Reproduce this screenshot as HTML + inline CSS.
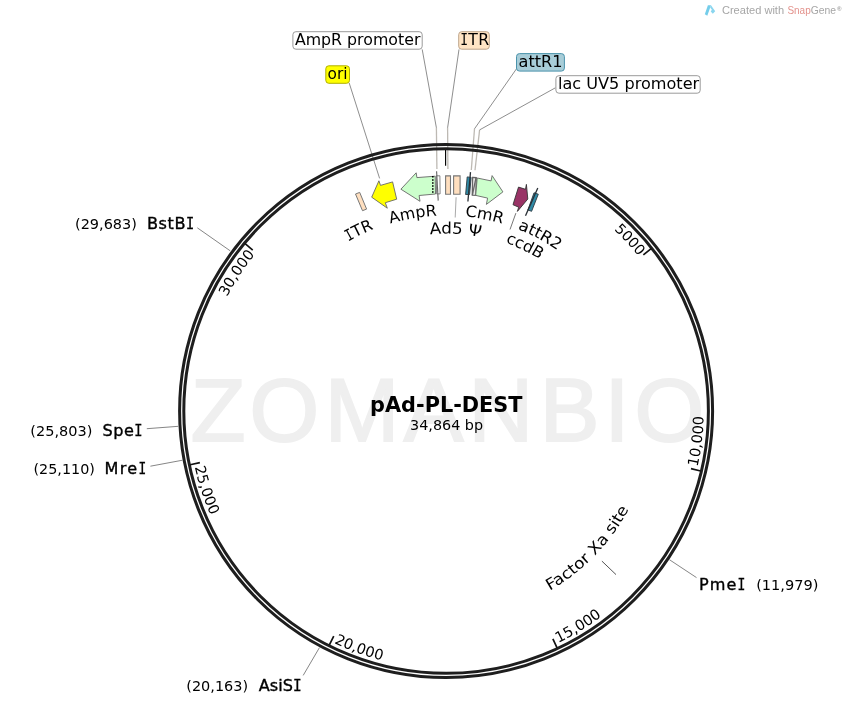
<!DOCTYPE html>
<html lang="en"><head><meta charset="utf-8"><title>pAd-PL-DEST</title>
<style>html,body{margin:0;padding:0;background:#fff;}body{width:849px;height:709px;overflow:hidden;}svg{display:block;will-change:transform;}text{font-family:"DejaVu Sans", "Liberation Sans", sans-serif;fill:#000;}</style></head><body>
<svg width="849" height="709" viewBox="0 0 849 709">
<rect width="849" height="709" fill="#fff"/>
<text x="190.7 249.4 324.8 403.7 468.6 539.8 604.5 634.6" y="440.7" font-size="89.5" stroke="#efefef" stroke-width="2" stroke-linejoin="miter" style="fill:#efefef;font-family:'Liberation Sans',sans-serif">ZOMANBIO</text>
<polyline points="436.4,127.8 436.9,168.9" fill="none" stroke="#bdb9b3" stroke-width="1.30"/>
<polyline points="447.6,127.8 447.9,168.9" fill="none" stroke="#bdb9b3" stroke-width="1.30"/>
<polyline points="474.5,128.8 471.3,170.0" fill="none" stroke="#bdb9b3" stroke-width="1.30"/>
<polyline points="479.6,129.9 475.0,170.2" fill="none" stroke="#bdb9b3" stroke-width="1.30"/>
<polyline points="422.2,49.4 436.4,127.8" fill="none" stroke="#7a7a7a" stroke-width="0.85"/>
<polyline points="459.0,49.4 447.6,127.8" fill="none" stroke="#7a7a7a" stroke-width="0.85"/>
<polyline points="517.2,67.8 474.5,128.8" fill="none" stroke="#7a7a7a" stroke-width="0.85"/>
<polyline points="555.4,87.8 479.6,129.9" fill="none" stroke="#7a7a7a" stroke-width="0.85"/>
<polyline points="349.2,83.0 379.6,178.4" fill="none" stroke="#7a7a7a" stroke-width="0.85"/>
<circle cx="446.1" cy="411.0" r="266.5" fill="none" stroke="#1e1e1e" stroke-width="3.0"/>
<circle cx="446.1" cy="411.0" r="262.3" fill="none" stroke="#1e1e1e" stroke-width="3.0"/>
<line x1="651.12" y1="248.67" x2="643.36" y2="254.82" stroke="#111" stroke-width="1.7"/>
<path id="tp5000" d="M613.88 229.73 A247.00 247.00 0 0 1 638.50 256.11" fill="none"/>
<text font-size="14.2"><textPath href="#tp5000" startOffset="0">5000</textPath></text>
<line x1="700.63" y1="470.97" x2="690.99" y2="468.70" stroke="#111" stroke-width="1.7"/>
<path id="tp10000" d="M697.55 466.96 A257.60 257.60 0 0 0 703.70 410.34" fill="none"/>
<text font-size="14.6"><textPath href="#tp10000" startOffset="0">10,000</textPath></text>
<line x1="557.08" y1="647.78" x2="552.88" y2="638.82" stroke="#111" stroke-width="1.7"/>
<path id="tp15000" d="M558.31 642.87 A257.60 257.60 0 0 0 606.52 612.55" fill="none"/>
<text font-size="14.6"><textPath href="#tp15000" startOffset="0">15,000</textPath></text>
<line x1="329.35" y1="644.99" x2="333.77" y2="636.13" stroke="#111" stroke-width="1.7"/>
<path id="tp20000" d="M333.96 642.91 A257.60 257.60 0 0 0 387.67 661.88" fill="none"/>
<text font-size="14.6"><textPath href="#tp20000" startOffset="0">20,000</textPath></text>
<line x1="190.18" y1="464.72" x2="199.87" y2="462.68" stroke="#111" stroke-width="1.7"/>
<path id="tp25000" d="M194.67 467.04 A257.60 257.60 0 0 0 213.13 520.92" fill="none"/>
<text font-size="14.6"><textPath href="#tp25000" startOffset="0">25,000</textPath></text>
<line x1="245.12" y1="243.70" x2="252.73" y2="250.03" stroke="#111" stroke-width="1.7"/>
<path id="tp30000" d="M226.94 297.08 A247.00 247.00 0 0 1 254.99 254.52" fill="none"/>
<text font-size="14.6"><textPath href="#tp30000" startOffset="0">30,000</textPath></text>
<line x1="445.6" y1="150" x2="445.6" y2="165.8" stroke="#000" stroke-width="1.15"/>
<line x1="197.3" y1="227.8" x2="230.3" y2="250.9" stroke="#868686" stroke-width="1"/>
<text class="enz" x="146.9" y="228.7" font-size="16.1" stroke="#000" stroke-width="0.36" letter-spacing="0.60">BstB<tspan font-family="DejaVu Sans Mono" style="font-family:'DejaVu Sans Mono','Liberation Mono',monospace" textLength="8.69" lengthAdjust="spacingAndGlyphs">I</tspan></text>
<text class="num" x="75.0" y="228.7" font-size="13.8" textLength="61.9" lengthAdjust="spacingAndGlyphs">(29,683)</text>
<line x1="146.8" y1="428.7" x2="178.5" y2="426.3" stroke="#868686" stroke-width="1"/>
<text class="enz" x="102.5" y="435.9" font-size="16.1" stroke="#000" stroke-width="0.36" letter-spacing="0.50">Spe<tspan font-family="DejaVu Sans Mono" style="font-family:'DejaVu Sans Mono','Liberation Mono',monospace" textLength="8.69" lengthAdjust="spacingAndGlyphs">I</tspan></text>
<text class="num" x="30.3" y="435.9" font-size="13.8" textLength="62.1" lengthAdjust="spacingAndGlyphs">(25,803)</text>
<line x1="150.4" y1="466.2" x2="182.6" y2="460.2" stroke="#868686" stroke-width="1"/>
<text class="enz" x="104.6" y="474.2" font-size="16.1" stroke="#000" stroke-width="0.36" letter-spacing="1.25">Mre<tspan font-family="DejaVu Sans Mono" style="font-family:'DejaVu Sans Mono','Liberation Mono',monospace" textLength="8.69" lengthAdjust="spacingAndGlyphs">I</tspan></text>
<text class="num" x="33.5" y="474.2" font-size="13.8" textLength="61.4" lengthAdjust="spacingAndGlyphs">(25,110)</text>
<line x1="303.2" y1="675.4" x2="319.5" y2="647.5" stroke="#868686" stroke-width="1"/>
<text class="enz" x="258.8" y="690.9" font-size="16.1" stroke="#000" stroke-width="0.36" letter-spacing="0.00">AsiS<tspan font-family="DejaVu Sans Mono" style="font-family:'DejaVu Sans Mono','Liberation Mono',monospace" textLength="8.69" lengthAdjust="spacingAndGlyphs">I</tspan></text>
<text class="num" x="186.3" y="690.9" font-size="13.8" textLength="61.8" lengthAdjust="spacingAndGlyphs">(20,163)</text>
<line x1="669.3" y1="559.6" x2="696.5" y2="577.6" stroke="#868686" stroke-width="1"/>
<text class="enz" x="699.0" y="589.9" font-size="16.1" stroke="#000" stroke-width="0.36" letter-spacing="1.05">Pme<tspan font-family="DejaVu Sans Mono" style="font-family:'DejaVu Sans Mono','Liberation Mono',monospace" textLength="8.69" lengthAdjust="spacingAndGlyphs">I</tspan></text>
<text class="num" x="756.2" y="589.9" font-size="13.8" textLength="62.2" lengthAdjust="spacingAndGlyphs">(11,979)</text>
<text x="446.3" y="411.8" text-anchor="middle" font-size="22" font-weight="bold" textLength="152.4" lengthAdjust="spacingAndGlyphs">pAd-PL-DEST</text>
<text x="446.6" y="430" text-anchor="middle" font-size="14" textLength="73" lengthAdjust="spacingAndGlyphs">34,864 bp</text>
<rect x="292.90" y="31.70" width="129.30" height="17.50" rx="3" ry="3" fill="#ffffff" stroke="#9a9a9a" stroke-width="1"/>
<text x="294.9" y="44.7" font-size="15.7" textLength="125.5" lengthAdjust="spacingAndGlyphs">AmpR promoter</text>
<rect x="458.70" y="31.70" width="30.60" height="17.50" rx="3" ry="3" fill="#ffe4c4" stroke="#bea58c" stroke-width="1"/>
<text x="460.2" y="44.7" font-size="15.7" letter-spacing="0.35"><tspan font-family="DejaVu Sans Mono" style="font-family:'DejaVu Sans Mono','Liberation Mono',monospace" textLength="8.16" lengthAdjust="spacingAndGlyphs">I</tspan>TR</text>
<rect x="325.80" y="65.80" width="23.70" height="17.50" rx="3" ry="3" fill="#ffff00" stroke="#b0b000" stroke-width="1"/>
<text x="327.6" y="78.8" font-size="15.7" textLength="20.0" lengthAdjust="spacingAndGlyphs">ori</text>
<rect x="516.50" y="53.60" width="47.90" height="17.50" rx="3" ry="3" fill="#a8cdd8" stroke="#4a93ac" stroke-width="1"/>
<text x="518.6" y="66.6" font-size="15.7" textLength="44.0" lengthAdjust="spacingAndGlyphs">attR1</text>
<rect x="555.90" y="75.70" width="144.30" height="17.50" rx="3" ry="3" fill="#ffffff" stroke="#9a9a9a" stroke-width="1"/>
<text x="558.0" y="88.7" font-size="15.7" textLength="141.2" lengthAdjust="spacingAndGlyphs">lac UV5 promoter</text>
<polygon points="355.5,194.0 359.7,192.4 366.6,209.1 362.5,210.7" fill="#ffdfbf" stroke="#787878" stroke-width="1.00" stroke-linejoin="miter"/>
<polygon points="371.7,197.2 378.9,180.8 380.5,185.4 392.6,181.9 396.7,199.2 385.3,202.7 387.3,208.2" fill="#ffff00" stroke="#666" stroke-width="0.90" stroke-linejoin="miter"/>
<polygon points="400.9,189.2 416.2,172.8 416.9,177.6 435.2,176.2 435.5,194.0 419.1,195.5 420.0,201.3" fill="#ccffcc" stroke="#666" stroke-width="0.90" stroke-linejoin="miter"/>
<line x1="432.8" y1="176.1" x2="432.8" y2="194" stroke="#000" stroke-width="1.6" stroke-dasharray="1.5,1.53"/>
<polygon points="436.3,175.8 439.9,175.8 440.1,193.9 436.6,193.9" fill="#fff" stroke="#777" stroke-width="0.90" stroke-linejoin="miter"/>
<polyline points="436.6,171.2 438.2,200.6" fill="none" stroke="#666" stroke-width="1.10"/>
<polygon points="445.6,175.9 450.5,175.9 450.5,194.2 445.6,194.2" fill="#ffdfbf" stroke="#787878" stroke-width="1.10" stroke-linejoin="miter"/>
<polygon points="453.6,175.9 460.1,175.9 460.1,194.2 453.6,194.2" fill="#ffdfbf" stroke="#787878" stroke-width="1.10" stroke-linejoin="miter"/>
<polyline points="456.1,197.2 455.2,217.5" fill="none" stroke="#aaa" stroke-width="1.00"/>
<polygon points="467.2,176.9 471.1,177.4 469.6,194.5 465.6,194.5" fill="#2f8aa6" stroke="#2a3a42" stroke-width="0.90" stroke-linejoin="miter"/>
<polyline points="470.5,172.1 467.9,201.5" fill="none" stroke="#2a3036" stroke-width="1.30"/>
<polygon points="472.6,177.4 476.2,177.7 475.9,195.3 472.3,195.2" fill="#ececec" stroke="#666" stroke-width="1.30" stroke-linejoin="miter"/>
<polyline points="476.0,177.6 472.4,195.2" fill="none" stroke="#666" stroke-width="1.30"/>
<polygon points="477.2,178.0 491.1,180.9 492.1,175.6 502.9,191.9 486.4,204.4 487.6,198.1 475.7,195.4" fill="#ccffcc" stroke="#666" stroke-width="0.90" stroke-linejoin="miter"/>
<polygon points="518.5,187.1 525.5,189.3 526.4,184.4 527.8,199.0 517.4,211.4 518.7,207.2 513.0,204.7" fill="#993366" stroke="#333" stroke-width="0.90" stroke-linejoin="miter"/>
<polyline points="515.9,213.1 510.0,229.5" fill="none" stroke="#777" stroke-width="1.00"/>
<polygon points="534.0,192.8 538.3,194.2 531.6,211.3 527.9,210.0" fill="#2f8aa6" stroke="#2a3a42" stroke-width="0.90" stroke-linejoin="miter"/>
<polyline points="537.8,188.1 525.5,215.8" fill="none" stroke="#2a3036" stroke-width="1.30"/>
<path id="lp1" d="M348.20 241.43 A195.80 195.80 0 0 1 400.50 220.58" fill="none"/>
<text class="flab" font-size="15.7"><textPath href="#lp1"><tspan font-family="DejaVu Sans Mono" style="font-family:'DejaVu Sans Mono','Liberation Mono',monospace" textLength="7.85" lengthAdjust="spacingAndGlyphs">I</tspan>TR</textPath></text>
<path id="lp2" d="M390.25 223.65 A195.50 195.50 0 0 1 466.82 216.60" fill="none"/>
<text class="flab" font-size="15.7"><textPath href="#lp2" textLength="47.4" lengthAdjust="spacingAndGlyphs">AmpR</textPath></text>
<path id="lp3" d="M430.01 234.23 A177.50 177.50 0 0 1 509.55 245.23" fill="none"/>
<text class="flab" font-size="15.7"><textPath href="#lp3" textLength="51.0" lengthAdjust="spacingAndGlyphs">Ad5 Ψ</textPath></text>
<path id="lp4" d="M465.01 216.42 A195.50 195.50 0 0 1 530.20 234.51" fill="none"/>
<text class="flab" font-size="15.7"><textPath href="#lp4" textLength="38.0" lengthAdjust="spacingAndGlyphs">CmR</textPath></text>
<path id="lp5" d="M505.39 242.63 A178.50 178.50 0 0 1 564.04 277.01" fill="none"/>
<text class="flab" font-size="15.7"><textPath href="#lp5" textLength="38.4" lengthAdjust="spacingAndGlyphs">ccdB</textPath></text>
<path id="lp6" d="M517.59 229.04 A195.50 195.50 0 0 1 580.86 269.37" fill="none"/>
<text class="flab" font-size="15.7"><textPath href="#lp6" textLength="45.5" lengthAdjust="spacingAndGlyphs">attR2</textPath></text>
<path id="lp7" d="M549.85 590.70 A207.50 207.50 0 0 0 641.13 481.84" fill="none"/>
<text class="flab" font-size="15.7"><textPath href="#lp7" textLength="115.0" lengthAdjust="spacingAndGlyphs">Factor Xa site</textPath></text>
<polyline points="601.9,561.1 616.0,574.6" fill="none" stroke="#555" stroke-width="1.00"/>
<path d="M707.9 5.2 L711 5.2 L707.3 15.7 L704.8 14.2 Z" fill="#74cdea"/>
<path d="M711 5.2 L715.2 11.3 L712.8 13.8 L710.7 11.6 L711.9 9.8 L710.1 7.5 Z" fill="#8ad6ef"/>
<text x="721.9" y="13.7" font-size="11" style="font-family:'Liberation Sans',sans-serif;fill:#a6a6a6" textLength="62.2" lengthAdjust="spacingAndGlyphs">Created with</text>
<text x="787.4" y="13.7" font-size="11" style="font-family:'Liberation Sans',sans-serif;fill:#a6a6a6"><tspan style="fill:#e3928c" textLength="23.3" lengthAdjust="spacingAndGlyphs">Snap</tspan><tspan textLength="25.4" lengthAdjust="spacingAndGlyphs">Gene</tspan><tspan dx="0.9" dy="-2.9" font-size="6.2" font-weight="bold">®</tspan></text>
</svg></body></html>
